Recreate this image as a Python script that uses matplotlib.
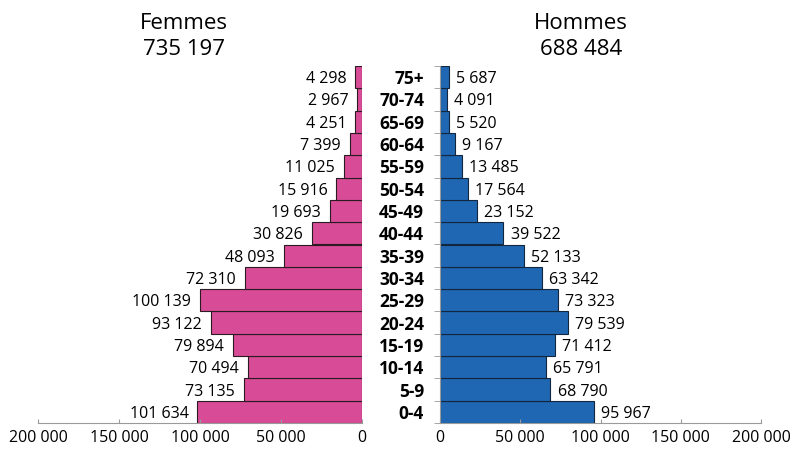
import matplotlib.pyplot as plt
from matplotlib.ticker import FixedLocator

plt.rcParams['font.family'] = ['Open Sans', 'DejaVu Sans']

ages = ['0-4', '5-9', '10-14', '15-19', '20-24', '25-29', '30-34', '35-39',
        '40-44', '45-49', '50-54', '55-59', '60-64', '65-69', '70-74', '75+']
femmes = [101634, 73135, 70494, 79894, 93122, 100139, 72310, 48093,
          30826, 19693, 15916, 11025, 7399, 4251, 2967, 4298]
hommes = [95967, 68790, 65791, 71412, 79539, 73323, 63342, 52133,
          39522, 23152, 17564, 13485, 9167, 5520, 4091, 5687]
total_femmes = '735 197'
total_hommes = '688 484'
xticks = [0, 50000, 100000, 150000, 200000]

pink = '#d84b97'
blue = '#1f67b3'
grey = '#9a9a9a'


def fmt(v):
    return f'{v:,}'.replace(',', ' ')


fig = plt.figure(figsize=(7.92, 4.51), dpi=100)
axl = fig.add_axes([38 / 792, 28 / 451, 324 / 792, 357 / 451])
axr = fig.add_axes([440 / 792, 28 / 451, 321 / 792, 357 / 451])

y = list(range(len(ages)))

axl.barh(y, femmes, height=1.0, color=pink, edgecolor='#2a1a22', linewidth=0.8)
axr.barh(y, hommes, height=1.0, color=blue, edgecolor='#12263d', linewidth=0.8)

for yi, v in zip(y, femmes):
    axl.text(v + 5500, yi, fmt(v), ha='right', va='center_baseline', fontsize=11.5)
for yi, v in zip(y, hommes):
    axr.text(v + 4500, yi, fmt(v), ha='left', va='center_baseline', fontsize=11.5)

for ax in (axl, axr):
    ax.set_xlim(0, 200000)
    ax.set_ylim(-0.5, len(ages) - 0.5)
    ax.set_xticks(xticks)
    ax.set_xticklabels([fmt(t) for t in xticks], fontsize=11.5)
    ax.tick_params(axis='x', direction='in', length=3, color=grey, pad=5)
    ax.spines['top'].set_visible(False)
    ax.spines['right'].set_visible(False)
    ax.spines['bottom'].set_color(grey)
    ax.spines['left'].set_color(grey)

axl.invert_xaxis()
axl.spines['left'].set_visible(False)
axl.set_yticks([])

# age groups sit between the two halves, as labels of the right axis
axr.set_yticks(y)
axr.set_yticklabels(ages, fontsize=12.5, fontweight='bold')
for lbl in axr.get_yticklabels():
    lbl.set_va('center_baseline')
axr.tick_params(axis='y', which='major', length=0, pad=11.5)
axr.yaxis.set_minor_locator(FixedLocator([i - 0.5 for i in range(len(ages) + 1)]))
axr.tick_params(axis='y', which='minor', length=4.3, color=grey)

fig.text(184 / 792, 1 - 13 / 451, 'Femmes\n' + total_femmes, ha='center', va='top',
         fontsize=16, linespacing=1.3)
fig.text(581 / 792, 1 - 13 / 451, 'Hommes\n' + total_hommes, ha='center', va='top',
         fontsize=16, linespacing=1.3)

fig.savefig('out.png', dpi=100)
